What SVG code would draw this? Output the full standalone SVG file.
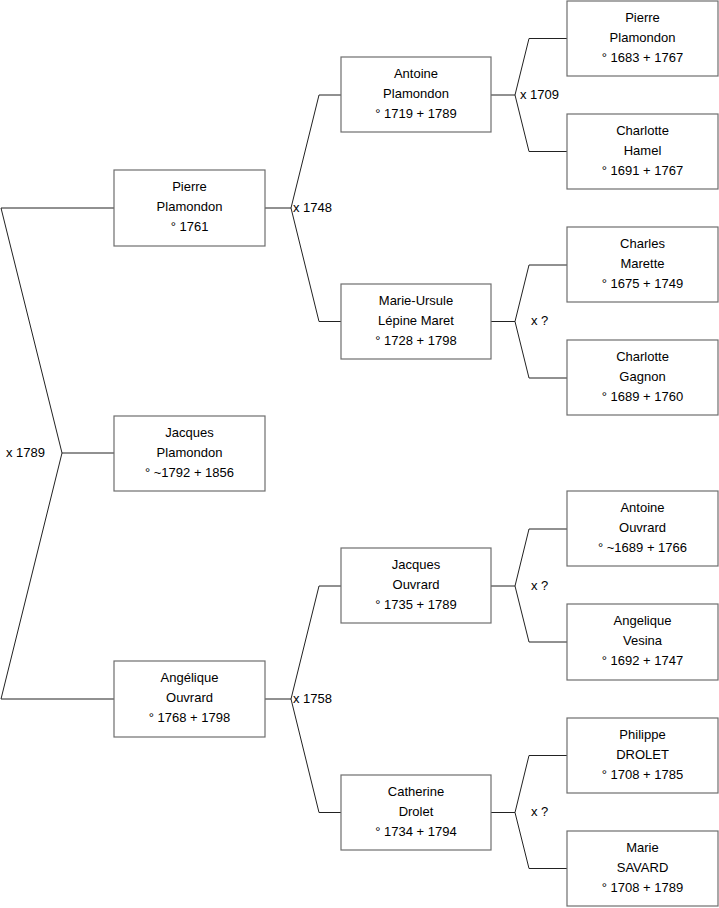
<svg xmlns="http://www.w3.org/2000/svg" width="719" height="908" viewBox="0 0 719 908">
<style>
.b{fill:#fff;stroke:#6e6e6e;stroke-width:1.2}
.t{font-family:"Liberation Sans",Arial,sans-serif;font-size:13px;fill:#000;text-anchor:middle}
.l{font-family:"Liberation Sans",Arial,sans-serif;font-size:13px;fill:#000}
.c{fill:none;stroke:#222;stroke-width:1}
</style>
<rect width="719" height="908" fill="#fff"/>
<g id="connectors">
<polyline class="c" points="114,208 1,208 62,453 1,699 114,699"/>
<line class="c" x1="62" y1="453" x2="114" y2="453"/>
<polyline class="c" points="341,95 319,95 291,208 319,321.5 341,321.5"/>
<line class="c" x1="265" y1="208" x2="291" y2="208"/>
<polyline class="c" points="341,586 319,586 291,699 319,812.5 341,812.5"/>
<line class="c" x1="265" y1="699" x2="291" y2="699"/>
<polyline class="c" points="567,38.5 529,38.5 515,95 529,151.5 567,151.5"/>
<line class="c" x1="491" y1="95" x2="515" y2="95"/>
<polyline class="c" points="567,265 529,265 515,321.5 529,378 567,378"/>
<line class="c" x1="491" y1="321.5" x2="515" y2="321.5"/>
<polyline class="c" points="567,529 529,529 515,586 529,642 567,642"/>
<line class="c" x1="491" y1="586" x2="515" y2="586"/>
<polyline class="c" points="567,755.5 529,755.5 515,812.5 529,868.5 567,868.5"/>
<line class="c" x1="491" y1="812.5" x2="515" y2="812.5"/>
<text class="l" x="6" y="457">x 1789</text>
<text class="l" x="293" y="212">x 1748</text>
<text class="l" x="293" y="703">x 1758</text>
<text class="l" x="520" y="99">x 1709</text>
<text class="l" x="531" y="325">x ?</text>
<text class="l" x="531" y="590">x ?</text>
<text class="l" x="531" y="816">x ?</text>
</g>
<g id="n1"><rect class="b" x="114" y="170" width="151" height="76"/><text class="t" x="189.5" y="191">Pierre</text><text class="t" x="189.5" y="211">Plamondon</text><text class="t" x="189.5" y="231">° 1761</text></g>
<g id="n2"><rect class="b" x="114" y="416" width="151" height="75"/><text class="t" x="189.5" y="437">Jacques</text><text class="t" x="189.5" y="457">Plamondon</text><text class="t" x="189.5" y="477">° ~1792 + 1856</text></g>
<g id="n3"><rect class="b" x="114" y="661" width="151" height="76"/><text class="t" x="189.5" y="682">Angélique</text><text class="t" x="189.5" y="702">Ouvrard</text><text class="t" x="189.5" y="722">° 1768 + 1798</text></g>
<g id="n4"><rect class="b" x="341" y="57" width="150" height="75"/><text class="t" x="416" y="78">Antoine</text><text class="t" x="416" y="98">Plamondon</text><text class="t" x="416" y="118">° 1719 + 1789</text></g>
<g id="n5"><rect class="b" x="341" y="284" width="150" height="75"/><text class="t" x="416" y="305">Marie-Ursule</text><text class="t" x="416" y="325">Lépine Maret</text><text class="t" x="416" y="345">° 1728 + 1798</text></g>
<g id="n6"><rect class="b" x="341" y="548" width="150" height="75"/><text class="t" x="416" y="569">Jacques</text><text class="t" x="416" y="589">Ouvrard</text><text class="t" x="416" y="609">° 1735 + 1789</text></g>
<g id="n7"><rect class="b" x="341" y="775" width="150" height="75"/><text class="t" x="416" y="796">Catherine</text><text class="t" x="416" y="816">Drolet</text><text class="t" x="416" y="836">° 1734 + 1794</text></g>
<g id="n8"><rect class="b" x="567" y="1" width="151" height="75"/><text class="t" x="642.5" y="22">Pierre</text><text class="t" x="642.5" y="42">Plamondon</text><text class="t" x="642.5" y="62">° 1683 + 1767</text></g>
<g id="n9"><rect class="b" x="567" y="114" width="151" height="75"/><text class="t" x="642.5" y="135">Charlotte</text><text class="t" x="642.5" y="155">Hamel</text><text class="t" x="642.5" y="175">° 1691 + 1767</text></g>
<g id="n10"><rect class="b" x="567" y="227" width="151" height="75"/><text class="t" x="642.5" y="248">Charles</text><text class="t" x="642.5" y="268">Marette</text><text class="t" x="642.5" y="288">° 1675 + 1749</text></g>
<g id="n11"><rect class="b" x="567" y="340" width="151" height="75"/><text class="t" x="642.5" y="361">Charlotte</text><text class="t" x="642.5" y="381">Gagnon</text><text class="t" x="642.5" y="401">° 1689 + 1760</text></g>
<g id="n12"><rect class="b" x="567" y="491" width="151" height="75"/><text class="t" x="642.5" y="512">Antoine</text><text class="t" x="642.5" y="532">Ouvrard</text><text class="t" x="642.5" y="552">° ~1689 + 1766</text></g>
<g id="n13"><rect class="b" x="567" y="604" width="151" height="76"/><text class="t" x="642.5" y="625">Angelique</text><text class="t" x="642.5" y="645">Vesina</text><text class="t" x="642.5" y="665">° 1692 + 1747</text></g>
<g id="n14"><rect class="b" x="567" y="718" width="151" height="75"/><text class="t" x="642.5" y="739">Philippe</text><text class="t" x="642.5" y="759">DROLET</text><text class="t" x="642.5" y="779">° 1708 + 1785</text></g>
<g id="n15"><rect class="b" x="567" y="831" width="151" height="75"/><text class="t" x="642.5" y="852">Marie</text><text class="t" x="642.5" y="872">SAVARD</text><text class="t" x="642.5" y="892">° 1708 + 1789</text></g>
</svg>
